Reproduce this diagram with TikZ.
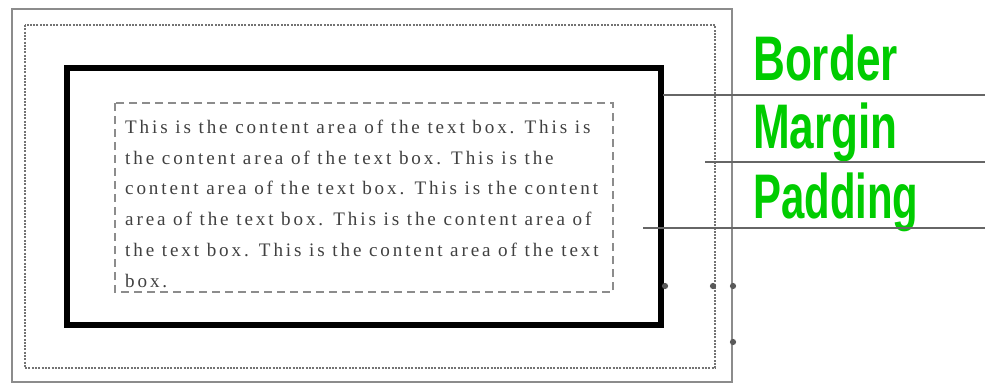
\documentclass[tikz,border=0pt]{standalone}
\usepackage{fontspec}
\setmainfont{Liberation Serif}
\newfontfamily\contentfont[LetterSpace=15]{Liberation Serif}
\newfontfamily\labelfont{Liberation Sans}
\definecolor{lblgreen}{HTML}{00CC00}
\definecolor{txtgray}{HTML}{404040}
\begin{document}
\begin{tikzpicture}[x=1pt,y=-1pt,
  outerbox/.style={draw=black!45,line width=1.4pt},
  marginbox/.style={draw=black!55,line width=1.2pt,dash pattern=on 2pt off 1.3pt},
  borderbox/.style={draw=black,line width=6.5pt},
  paddingbox/.style={draw=black!45,line width=2pt,dash pattern=on 8pt off 5pt},
  content/.style={anchor=base west,inner sep=0pt,font=\contentfont\fontsize{19.1}{19.1}\selectfont,text=txtgray},
  label/.style={anchor=base west,inner sep=0pt,text=lblgreen,font=\labelfont\bfseries\fontsize{63}{63}\selectfont},
  leader/.style={draw=black!60,line width=1.2pt},
  dotm/.style={fill=black!65,circle,inner sep=2.2pt}]
\useasboundingbox (0,0) rectangle (985,383);
\draw[outerbox] (12,9) rectangle (732,382);
\draw[marginbox] (25,25) rectangle (715,368);
\draw[borderbox] (67,68) rectangle (661,325);
\draw[paddingbox] (115,103) rectangle (613,292);
\node[content] (l1) at (125,133) {This is the content area of the text box. This is};
\node[content] (l2) at (125,164) {the content area of the text box. This is the};
\node[content] (l3) at (125,194.5) {content area of the text box. This is the content};
\node[content] (l4) at (125,225) {area of the text box. This is the content area of};
\node[content] (l5) at (125,256) {the text box. This is the content area of the text};
\node[content] (l6) at (125,287) {box.};
\node[label] (border) at (753,80) {\scalebox{0.70}[1]{Border}};
\node[label] (margin) at (753,148) {\scalebox{0.70}[1]{Margin}};
\node[label] (padding) at (753,218) {\scalebox{0.665}[1]{Padding}};
\coordinate (b1) at (663,95);  \coordinate (b2) at (985,95);
\coordinate (m1) at (705,162); \coordinate (m2) at (985,162);
\coordinate (p1) at (643,228); \coordinate (p2) at (985,228);
\draw[leader] (b1) -- (b2);
\draw[leader] (m1) -- (m2);
\draw[leader] (p1) -- (p2);
\node[dotm] (d1) at (665,286) {};
\node[dotm] (d2) at (713,286) {};
\node[dotm] (d3) at (733,286) {};
\node[dotm] (d4) at (733,342) {};
\end{tikzpicture}
\end{document}
